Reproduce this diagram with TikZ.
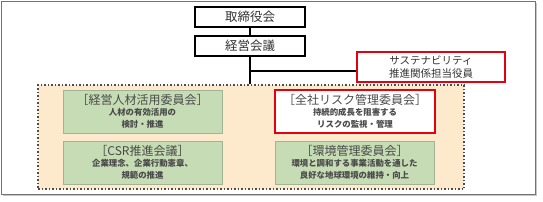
\documentclass[tikz,border=0pt]{standalone}
\usepackage{fontspec}
\setmainfont{Noto Sans CJK JP}
\definecolor{rikured}{HTML}{E3000F}
\definecolor{panelfill}{HTML}{FDE9CC}
\definecolor{boxgreen}{HTML}{C6DCB4}
\definecolor{boxedge}{HTML}{A3B496}
\definecolor{textgray}{HTML}{4A4A4A}
\tikzset{
  kaigi/.style={draw=black, line width=1.3pt, fill=white, minimum width=110pt,
    minimum height=20pt, inner sep=0pt, font=\fontsize{12.5}{14}\selectfont, text=black!80},
  iinkai/.style={fill=boxgreen, draw=boxedge, line width=1pt, minimum width=159pt,
    minimum height=43pt, inner sep=0pt, align=center, text=textgray},
  redbox/.style={draw=rikured, line width=2pt, fill=white},
}
\newcommand{\ttlfont}{\fontsize{12}{13.5}\selectfont}
\newcommand{\desc}{\fontsize{8.4}{11}\selectfont\bfseries}
\begin{document}
\begin{tikzpicture}[x=1pt, y=-1pt, line width=1.4pt]
\useasboundingbox (0,0) rectangle (543,201);

%=== frame ===
\fill[black!22] (3,3) rectangle (537,196);
\draw[black!55, line width=1pt, fill=white] (1,1) rectangle (535,194);

%=== top ===
\node[kaigi] (torishimari) at (250,17) {取締役会};
\node[kaigi] (keiei) at (250,46) {経営会議};
\node[kaigi, redbox, minimum width=148pt, minimum height=30pt, align=center,
  font=\fontsize{10.5}{13.5}\selectfont] (sust) at (431,67)
  {サステナビリティ\\推進関係担当役員};

%=== panel ===
\node[fill=panelfill, draw=black!70, dotted, line width=1.5pt,
  minimum width=426pt, minimum height=104pt] (panel) at (251,137) {};

\node[iinkai] (jinzai) at (142.5,111.5)
  {\ttlfont ［経営人材活用委員会］\\[-1.5pt]\desc 人材の有効活用の\\\desc 検討・推進};
\node[iinkai] (csr) at (142.5,162.5)
  {\ttlfont ［CSR推進会議］\\[-1.5pt]\desc 企業理念、企業行動憲章、\\\desc 規範の推進};
\node[iinkai, redbox, minimum width=160pt] (risk) at (355,111.5)
  {\ttlfont ［全社リスク管理委員会］\\[-1.5pt]\desc 持続的成長を阻害する\\\desc リスクの監視・管理};
\node[iinkai] (kankyo) at (354.5,162.5)
  {\ttlfont ［環境管理委員会］\\[-1.5pt]\desc 環境と調和する事業活動を通した\\\desc 良好な地球環境の維持・向上};

%--- connectors
\coordinate (tee) at (250,71);
\draw (torishimari) -- (keiei);
\draw (keiei) -- (keiei.south |- panel.north);
\draw (tee) -- (tee -| sust.west);
\end{tikzpicture}
\end{document}
